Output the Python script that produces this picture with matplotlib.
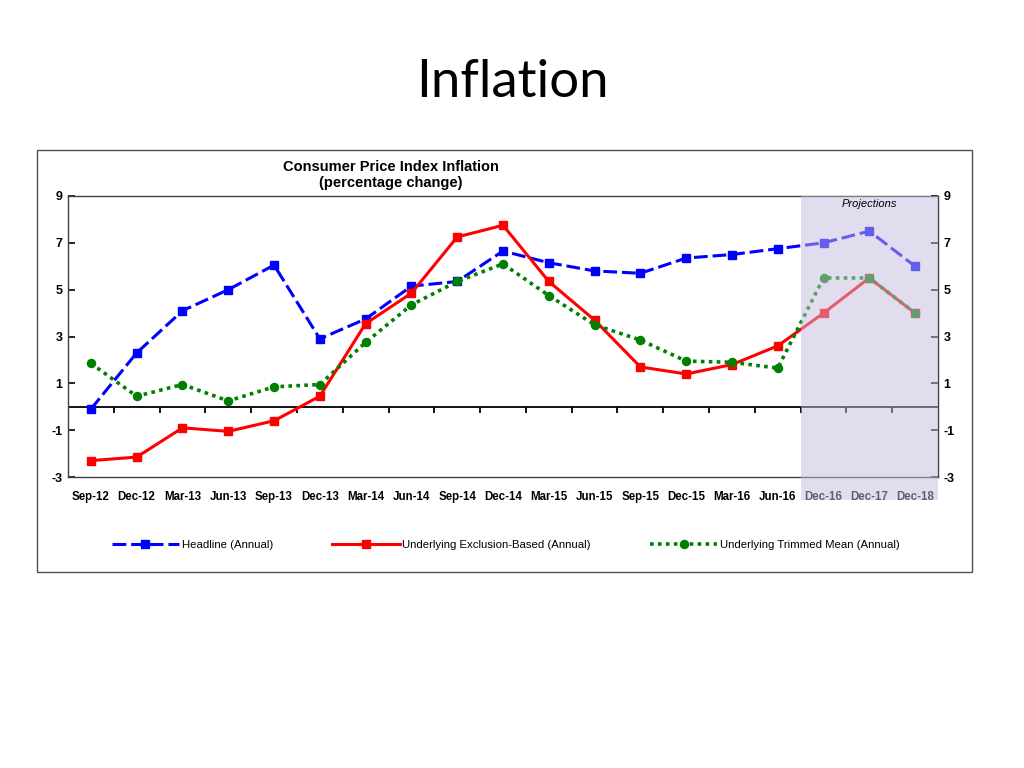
import matplotlib
matplotlib.use('Agg')
import matplotlib.pyplot as plt
from matplotlib.patches import Rectangle
from matplotlib.lines import Line2D

# data
periods = ['Sep-12', 'Dec-12', 'Mar-13', 'Jun-13', 'Sep-13', 'Dec-13', 'Mar-14',
           'Jun-14', 'Sep-14', 'Dec-14', 'Mar-15', 'Jun-15', 'Sep-15', 'Dec-15',
           'Mar-16', 'Jun-16', 'Dec-16', 'Dec-17', 'Dec-18']
headline = [-0.1, 2.3, 4.1, 5.0, 6.05, 2.9, 3.75, 5.15, 5.35, 6.65, 6.15, 5.8,
            5.7, 6.35, 6.5, 6.75, 7.0, 7.5, 6.0]
exclusion = [-2.3, -2.15, -0.9, -1.05, -0.6, 0.45, 3.55, 4.85, 7.25, 7.75, 5.35,
             3.7, 1.7, 1.4, 1.8, 2.6, 4.0, 5.5, 4.0]
trimmed = [1.85, 0.45, 0.95, 0.25, 0.85, 0.95, 2.75, 4.35, 5.35, 6.1, 4.75, 3.5,
           2.85, 1.95, 1.9, 1.65, 5.5, 5.5, 4.0]
y_ticks = [-3, -1, 1, 3, 5, 7, 9]
first_projection = 16

plt.rcParams['axes.unicode_minus'] = False
label_font = ['Liberation Sans', 'DejaVu Sans']
legend_font = ['Liberation Sans Narrow', 'Liberation Sans', 'DejaVu Sans']

fig = plt.figure(figsize=(10.24, 7.68), dpi=100)

# outer frame of the chart object
fig.patches.append(Rectangle((37 / 1024, 1 - 572 / 768), 935 / 1024, 422 / 768,
                             transform=fig.transFigure, fill=False,
                             edgecolor='#505050', linewidth=1.0))

fig.text(0.5, 0.893, 'Inflation', ha='center', va='center', fontsize=38,
         family=['Lato', 'DejaVu Sans'])

ax = fig.add_axes([68 / 1024, 1 - 477 / 768, 870 / 1024, 281 / 768])
x = list(range(len(periods)))

ax.plot(x, headline, color='#0000ff', linestyle=(0, (4.5, 1.6)), linewidth=2.2,
        marker='s', markersize=5.8, zorder=3)
ax.plot(x, exclusion, color='#ff0000', linestyle='-', linewidth=2.2,
        marker='s', markersize=5.8, zorder=3)
ax.plot(x, trimmed, color='#008000', linestyle=(0, (1, 1.2)), linewidth=2.6,
        marker='o', markersize=5.8, zorder=4)

ax.set_xlim(-0.5, len(periods) - 0.5)
ax.set_ylim(-3, 9)

# zero line with category boundary ticks
ax.axhline(0, color='black', linewidth=1.3, zorder=2)
ax.vlines([i - 0.5 for i in range(1, len(periods))], -0.27, 0,
          color='black', linewidth=1.3, zorder=2)

ax.set_xticks(x)
ax.set_xticklabels(periods, fontsize=8.3, fontweight='bold', family=label_font)
ax.tick_params(axis='x', length=0, pad=10)
ax.set_yticks(y_ticks)
ax.tick_params(axis='y', direction='in', length=5, width=1.2, labelsize=9,
               left=True, right=True, labelleft=True, labelright=True, pad=4)
for lab in ax.get_yticklabels():
    lab.set_fontweight('bold')
    lab.set_family(label_font)
for sp in ax.spines.values():
    sp.set_color('#404040')
    sp.set_linewidth(1.0)

# projections shading, drawn over the lines and labels
n = len(periods)
ax.add_patch(Rectangle((first_projection - 0.5, -4.0), n - first_projection, 13.0,
                       facecolor=(0.78, 0.74, 0.87), alpha=0.5, edgecolor='none',
                       clip_on=False, zorder=6))
ax.text(17.0, 8.67, 'Projections', ha='center', va='center', fontsize=8,
        style='italic', family=label_font, zorder=7)

fig.text(0.382, 0.772, 'Consumer Price Index Inflation\n(percentage change)',
         ha='center', va='center', fontsize=10.5, fontweight='bold',
         family=label_font, linespacing=1.25)

handles = [
    Line2D([], [], color='#0000ff', linestyle=(0, (4.5, 1.6)), linewidth=2.2,
           marker='s', markersize=5.8),
    Line2D([], [], color='#ff0000', linestyle='-', linewidth=2.2,
           marker='s', markersize=5.8),
    Line2D([], [], color='#008000', linestyle=(0, (1, 1.2)), linewidth=2.6,
           marker='o', markersize=5.8),
]
names = ['Headline (Annual)', 'Underlying Exclusion-Based (Annual)',
         'Underlying Trimmed Mean (Annual)']
fig.legend(handles, names, loc='center', bbox_to_anchor=(0.494, 1 - 545 / 768),
           ncol=3, frameon=False, handlelength=5.9, handletextpad=0.25,
           columnspacing=5.2, prop={'family': legend_font, 'size': 8.2})

fig.savefig('out.png', dpi=100)
